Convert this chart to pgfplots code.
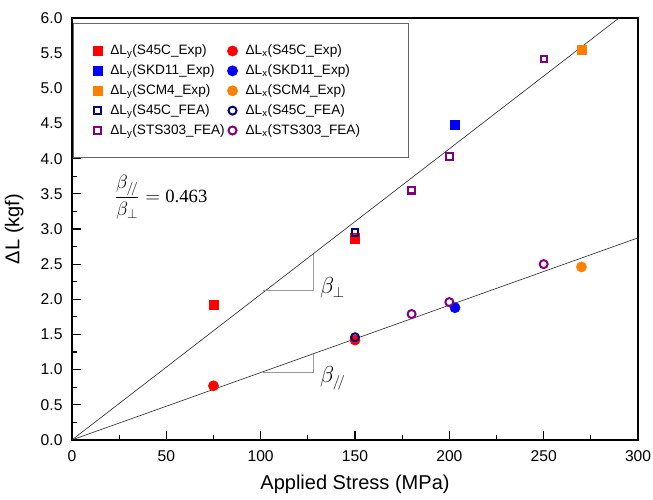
\documentclass[border=0pt]{standalone}
\usepackage{pgfplots}
\pgfplotsset{compat=1.18}
\usepackage{fontspec}
\setmainfont{Liberation Sans}
\newfontfamily\serif{Liberation Serif}
\definecolor{cOrange}{RGB}{255,128,0}
\definecolor{cNavy}{RGB}{0,0,128}
\definecolor{cPurple}{RGB}{128,0,128}
\begin{document}
\begin{tikzpicture}
\begin{axis}[
  width=424pt, height=316pt, scale only axis,
  xmin=0, xmax=300, ymin=0, ymax=6,
  xtick={0,50,...,300}, ytick={0,0.5,...,6},
  minor x tick num=1, minor y tick num=1,
  xtick pos=bottom, ytick pos=left, tick align=inside,
  major tick length=6.5pt, minor tick length=3.7pt,
  tick style={line width=0.8pt, black},
  yticklabel style={xshift=-3.6pt, /pgf/number format/.cd, fixed, fixed zerofill, precision=1},
  xticklabel style={yshift=-4.3pt},
  /pgf/number format/assume math mode=true,
  ticklabel style={font=\fontsize{11.7}{13}\selectfont},
  xlabel={Applied Stress (MPa)}, ylabel={ΔL (kgf)},
  label style={font=\fontsize{15}{17}\selectfont},
  xlabel style={yshift=-3.5pt}, ylabel style={yshift=6pt},
  axis line style={line width=1.1pt},
  legend columns=2,
  legend style={at={(0,1)}, anchor=north west, xshift=1pt, yshift=-4pt,
    font=\fontsize{10.2}{12}\selectfont, draw=black!60, line width=0.5pt,
    inner xsep=14.5pt, inner ysep=14pt, row sep=2pt,
    /tikz/every odd column/.append style={column sep=4pt},
    /tikz/every even column/.append style={column sep=0pt}},
  legend cell align=left,
  clip=true,
]
\coordinate (sw) at (rel axis cs:0,0);
\coordinate (ne) at (rel axis cs:1,1);
% fitted lines
\addplot[black!85, line width=0.45pt, forget plot] coordinates {(0,0) (300,6.21)};
\addplot[black!85, line width=0.45pt, forget plot] coordinates {(0,0) (300,2.874)};
% slope triangles
\addplot[black!40, line width=0.6pt, forget plot] coordinates {(101.5,2.12) (127.7,2.12) (127.7,2.64)};
\addplot[black!40, line width=0.6pt, forget plot] coordinates {(101.5,0.955) (127.7,0.955) (127.7,1.22)};
% data
\addplot[only marks, mark=square*, mark size=3.5pt, color=red] coordinates {(75,1.92) (150,2.87)};
\addlegendentry{ΔL\textsubscript{y}(S45C\_Exp)}
\addplot[only marks, mark=*, mark size=3.8pt, color=red] coordinates {(75,0.77) (150,1.42)};
\addlegendentry{ΔL\textsubscript{x}(S45C\_Exp)}
\addplot[only marks, mark=square*, mark size=3.5pt, color=blue] coordinates {(203,4.48)};
\addlegendentry{ΔL\textsubscript{y}(SKD11\_Exp)}
\addplot[only marks, mark=*, mark size=3.8pt, color=blue] coordinates {(203,1.88)};
\addlegendentry{ΔL\textsubscript{x}(SKD11\_Exp)}
\addplot[only marks, mark=square*, mark size=3.5pt, color=cOrange] coordinates {(270,5.55)};
\addlegendentry{ΔL\textsubscript{y}(SCM4\_Exp)}
\addplot[only marks, mark=*, mark size=3.8pt, color=cOrange] coordinates {(270,2.46)};
\addlegendentry{ΔL\textsubscript{x}(SCM4\_Exp)}
\addplot[only marks, mark=square, mark size=2.4pt, line width=1.5pt, color=cNavy, mark options={fill=white}] coordinates {(150,2.95)};
\addlegendentry{ΔL\textsubscript{y}(S45C\_FEA)}
\addplot[only marks, mark=o, mark size=3pt, line width=1.5pt, color=cNavy, mark options={fill=white}] coordinates {(150,1.46)};
\addlegendentry{ΔL\textsubscript{x}(S45C\_FEA)}
\addplot[only marks, mark=square, mark size=2.4pt, line width=1.5pt, color=cPurple] coordinates {(180,3.55) (200,4.03) (250,5.42)};
\addlegendentry{ΔL\textsubscript{y}(STS303\_FEA)}
\addplot[only marks, mark=o, mark size=3pt, line width=1.5pt, color=cPurple] coordinates {(180,1.79) (200,1.96) (250,2.50)};
\addlegendentry{ΔL\textsubscript{x}(STS303\_FEA)\rule{20pt}{0pt}}
% annotations
\node[anchor=base west, font=\fontsize{16}{18}\selectfont] at (axis cs:129,2.08) {$\beta_{\perp}$};
\node[anchor=base west, font=\fontsize{16}{18}\selectfont] at (axis cs:129,0.81) {$\beta_{/\!/}$};
\node[anchor=west, font=\fontsize{14}{16}\selectfont] at (axis cs:20,3.45) {$\displaystyle\frac{\beta_{/\!/}}{\beta_{\perp}}={}$\serif 0.463};
\end{axis}
\pgfresetboundingbox
\path ([shift={(-53.9pt,-44.9pt)}]sw) rectangle ([shift={(11.2pt,13.5pt)}]ne);
\end{tikzpicture}
\end{document}
